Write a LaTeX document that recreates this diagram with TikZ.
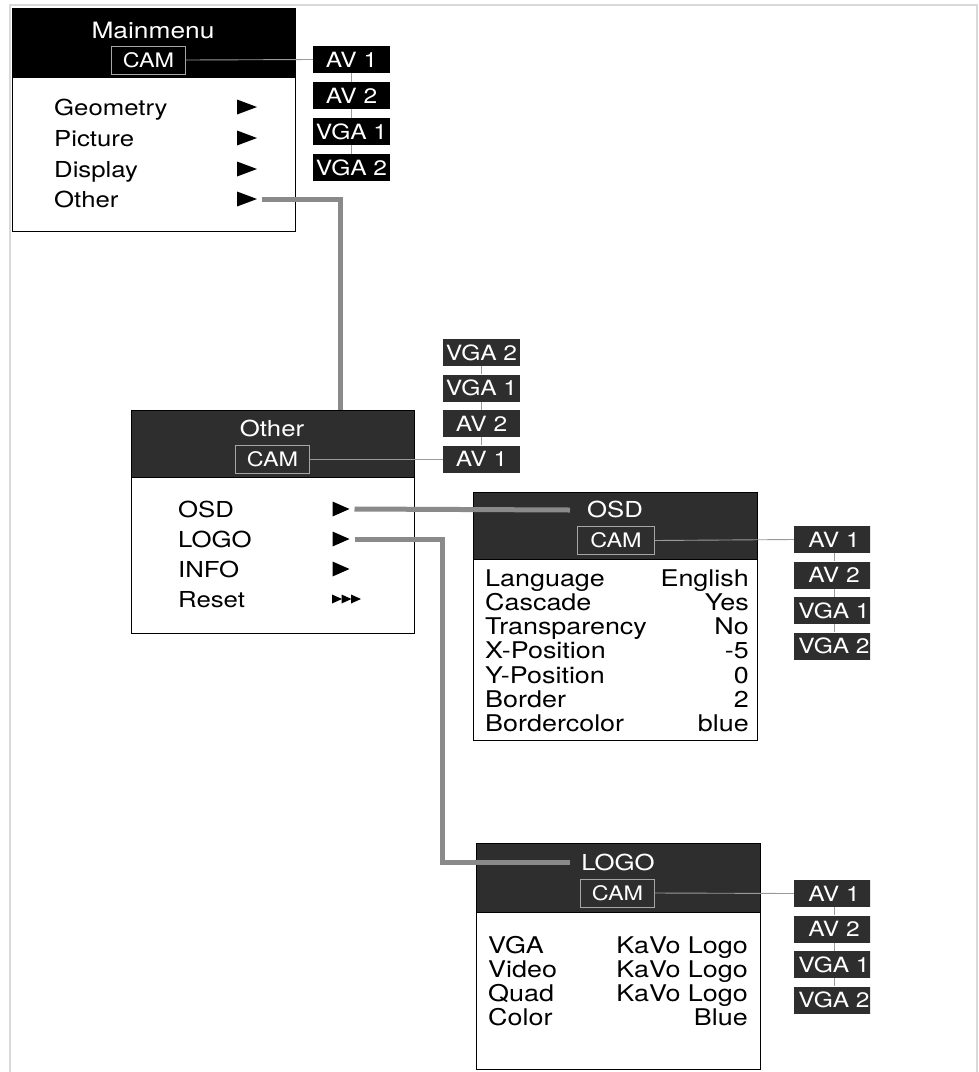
\documentclass[tikz,border=0pt]{standalone}
\usepackage{fontspec}
\newfontfamily\hv[FakeStretch=1.17]{TeX Gyre Heros}
\definecolor{hdr}{HTML}{2E2E2E}
\definecolor{connc}{HTML}{8A8A8A}
\definecolor{frm}{HTML}{D9D9D9}
\definecolor{thinc}{HTML}{9A9A9A}
\newcommand\menuarr[5]{% name, x, y, half width, half height
  \fill (#2-#4,#3-#5) -- (#2+#4,#3) -- (#2-#4,#3+#5) -- cycle;
  \coordinate (#1) at (#2+#4+5,#3);}
\begin{document}
\begin{tikzpicture}[x=1pt,y=-1pt,
  menu/.style={draw=black, line width=1.4pt, fill=white, anchor=north west, inner sep=0, minimum width=283pt},
  head/.style={fill=#1, draw=black, line width=1.4pt, anchor=north west, inner sep=0, minimum width=283pt},
  head/.default=black,
  ttl/.style={text=white, font=\hv\fontsize{22}{22}\selectfont, inner sep=0},
  cam/.style={draw=gray!70, line width=0.9pt, text=white, font=\hv\fontsize{20}{20}\selectfont, inner sep=0, minimum width=74pt, minimum height=28pt},
  av/.style={fill=#1, text=white, font=\hv\fontsize{21}{21}\selectfont, inner sep=0, minimum width=77pt, minimum height=27pt},
  av/.default=black,
  item/.style={anchor=base west, font=\hv\fontsize{22}{22}\selectfont, inner sep=0},
  lrow/.style={anchor=base west, font=\hv\fontsize{23}{23}\selectfont, inner sep=0},
  rrow/.style={anchor=base east, font=\hv\fontsize{23}{23}\selectfont, inner sep=0},
  thinline/.style={draw=thinc, line width=0.9pt},
  conn/.style={draw=connc, line width=5pt},
]
\useasboundingbox (0,0) rectangle (979,1072);
% page frame
\draw[draw=frm, line width=1.2pt] (10,1072) -- (10,5) -- (977,5) -- (977,1072);

% ---------- Main menu ----------
\node[menu, minimum height=223pt] (mm) at (12,8) {};
\node[head, minimum height=69pt] (mmh) at (12,8) {};
\node[ttl, font=\hv\fontsize{22.5}{22.5}\selectfont] (mmt) at (153,30) {Mainmenu};
\node[cam] (mmcam) at (148.5,60) {CAM};
\node[item] (g1) at (54,115) {Geometry};
\node[item] (g2) at (54,146) {Picture};
\node[item] (g3) at (54,177) {Display};
\node[item] (g4) at (54,207) {Other};
\menuarr{ma1}{247}{107}{10}{7.5}
\menuarr{ma2}{247}{138}{10}{7.5}
\menuarr{ma3}{247}{169}{10}{7.5}
\menuarr{ma4}{247}{199}{10}{7.5}
\node[av] (a1) at (351.5,59.5) {AV 1};
\node[av] (a2) at (351.5,95.5) {AV 2};
\node[av] (a3) at (351.5,131.5) {VGA 1};
\node[av] (a4) at (351.5,167.5) {VGA 2};
\draw[thinline] (mmcam.east) -- (a1.west);
\draw[thinline] (a1.south) -- (a2.north);
\draw[thinline] (a2.south) -- (a3.north);
\draw[thinline] (a3.south) -- (a4.north);

% ---------- Other ----------
\coordinate (j1) at (340,410);
\draw[conn] (ma4) -| (j1);
\node[menu, minimum height=223pt] (ot) at (131,410) {};
\node[head=hdr, minimum height=67pt] (oth) at (131,410) {};
\node[ttl] (ott) at (272,428) {Other};
\node[cam] (otcam) at (272.5,459) {CAM};
\node[item] (o1) at (178,517) {OSD};
\node[item] (o2) at (178,547) {LOGO};
\node[item] (o3) at (178,577) {INFO};
\node[item] (o4) at (178,607) {Reset};
\menuarr{oa1}{341}{509}{8.5}{7.5}
\menuarr{oa2}{341}{539}{8.5}{7.5}
\menuarr{oa3}{341}{569}{8.5}{7.5}
\menuarr{oa4}{337}{599}{5}{4.5}
\menuarr{oa5}{346.5}{599}{5}{4.5}
\menuarr{oa6}{356}{599}{5}{4.5}
\node[av=hdr] (b1) at (481.5,459) {AV 1};
\node[av=hdr] (b2) at (481.5,423.5) {AV 2};
\node[av=hdr] (b3) at (481.5,388) {VGA 1};
\node[av=hdr] (b4) at (481.5,352.5) {VGA 2};
\draw[thinline] (otcam.east) -- (b1.west);
\draw[thinline] (b1.north) -- (b2.south);
\draw[thinline] (b2.north) -- (b3.south);
\draw[thinline] (b3.north) -- (b4.south);

% ---------- OSD ----------
\node[menu, minimum width=284pt, minimum height=248pt] (os) at (473,492) {};
\node[head=hdr, minimum width=284pt, minimum height=67pt] (osh) at (473,492) {};
\coordinate (j2) at (570,510);
\draw[conn] (oa1) -- (j2);
\node[ttl] (ost) at (615,509) {OSD};
\node[cam, minimum width=77pt] (oscam) at (616,540.5) {CAM};
\node[lrow] (l1) at (485,586) {Language};
\node[lrow] (l2) at (485,610) {Cascade};
\node[lrow] (l3) at (485,634.5) {Transparency};
\node[lrow] (l4) at (485,658.5) {X-Position};
\node[lrow] (l5) at (485,683) {Y-Position};
\node[lrow] (l6) at (485,707) {Border};
\node[lrow] (l7) at (485,731) {Bordercolor};
\node[rrow] (r1) at (749,586) {English};
\node[rrow] (r2) at (749,610) {Yes};
\node[rrow] (r3) at (749,634.5) {No};
\node[rrow] (r4) at (749,658.5) {-5};
\node[rrow] (r5) at (749,683) {0};
\node[rrow] (r6) at (749,707) {2};
\node[rrow] (r7) at (749,731) {blue};
\begin{scope}
\clip (780,480) rectangle (870,1072);
\node[av=hdr, minimum width=80pt] (c1) at (834,539.5) {AV 1};
\node[av=hdr, minimum width=80pt] (c2) at (834,575) {AV 2};
\node[av=hdr, minimum width=80pt] (c3) at (834,610.5) {VGA 1};
\node[av=hdr, minimum width=80pt] (c4) at (834,646) {VGA 2};
\end{scope}
\draw[thinline] (oscam.east) -- (c1.west);
\draw[thinline] (c1.south) -- (c2.north);
\draw[thinline] (c2.south) -- (c3.north);
\draw[thinline] (c3.south) -- (c4.north);

% ---------- LOGO ----------
\node[menu, minimum width=284pt, minimum height=226pt] (lg) at (476,843) {};
\node[head=hdr, minimum width=284pt, minimum height=69pt] (lgh) at (476,843) {};
\coordinate (j3) at (442,862);
\coordinate (j4) at (570,862);
\draw[conn] (oa2) -| (j3) -- (j4);
\node[ttl] (lgt) at (618,862) {LOGO};
\node[cam] (lgcam) at (617.5,893) {CAM};
\node[lrow] (v1) at (488,953) {VGA};
\node[lrow] (v2) at (488,977) {Video};
\node[lrow] (v3) at (488,1001) {Quad};
\node[lrow] (v4) at (488,1025) {Color};
\node[rrow] (w1) at (748,953) {KaVo Logo};
\node[rrow] (w2) at (748,977) {KaVo Logo};
\node[rrow] (w3) at (748,1001) {KaVo Logo};
\node[rrow] (w4) at (748,1025) {Blue};
\begin{scope}
\clip (780,860) rectangle (870,1072);
\node[av=hdr, minimum width=80pt] (d1) at (834,893.5) {AV 1};
\node[av=hdr, minimum width=80pt] (d2) at (834,929) {AV 2};
\node[av=hdr, minimum width=80pt] (d3) at (834,964.5) {VGA 1};
\node[av=hdr, minimum width=80pt] (d4) at (834,1000) {VGA 2};
\end{scope}
\draw[thinline] (lgcam.east) -- (d1.west);
\draw[thinline] (d1.south) -- (d2.north);
\draw[thinline] (d2.south) -- (d3.north);
\draw[thinline] (d3.south) -- (d4.north);
\end{tikzpicture}
\end{document}
